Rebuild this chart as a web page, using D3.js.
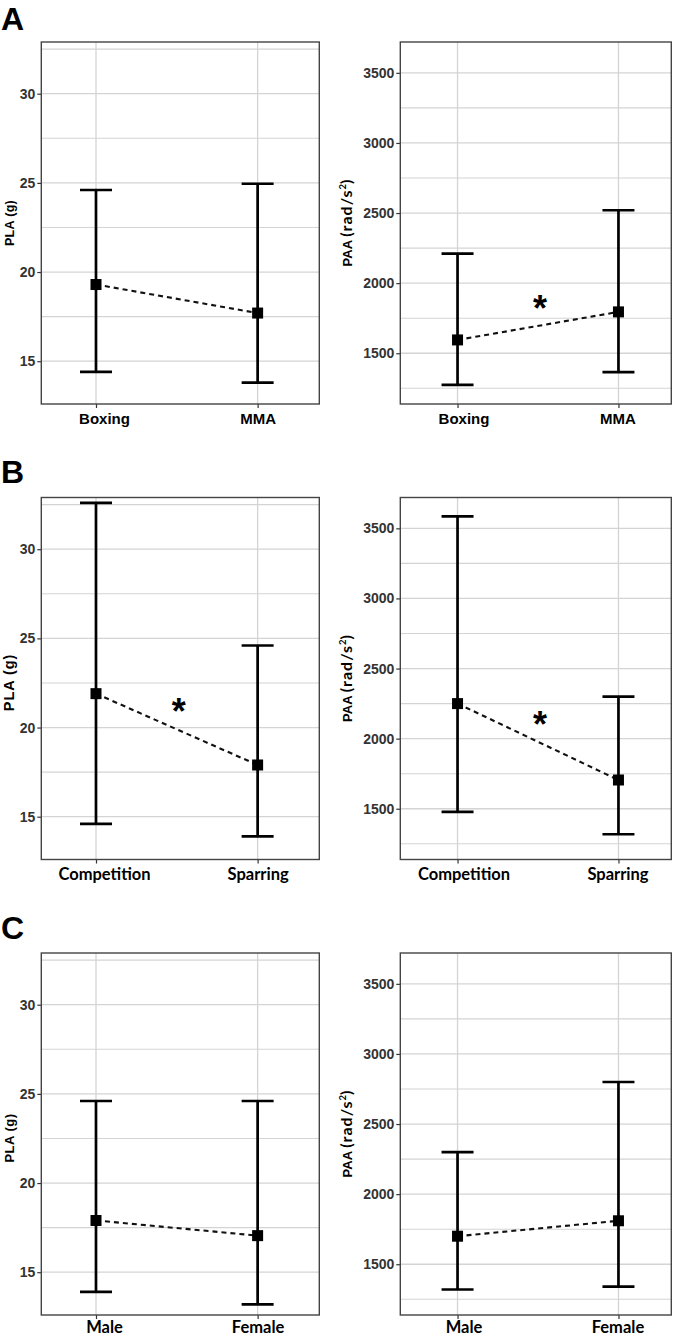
<!DOCTYPE html>
<html><head><meta charset="utf-8">
<script src="https://cdn.jsdelivr.net/npm/d3@7"></script>
<style>body{margin:0;background:#fff} svg{display:block}</style>
</head><body>
<script>
// ---------- data ----------
const panelLetters = ["A", "B", "C"];
const groupLabels = [["Boxing", "MMA"], ["Competition", "Sparring"], ["Male", "Female"]];
const plaMean  = [[19.3, 17.7], [21.9, 17.9], [17.9, 17.05]];
const plaLower = [[14.4, 13.8], [14.6, 13.9], [13.9, 13.2]];
const plaUpper = [[24.6, 24.95], [32.6, 24.6], [24.6, 24.6]];
const paaMean  = [[1595, 1795], [2250, 1705], [1700, 1810]];
const paaLower = [[1275, 1365], [1478, 1318], [1320, 1340]];
const paaUpper = [[2210, 2520], [3585, 2300], [2300, 2800]];
const significant = [[false, true], [true, true], [false, false]]; // [PLA, PAA] per row
const plaTicks = [15, 20, 25, 30];
const plaMinor = [17.5, 22.5, 27.5, 32.5];
const paaTicks = [1500, 2000, 2500, 3000, 3500];
const paaMinor = [1250, 1750, 2250, 2750, 3250];
const plaDomain = [12.6, 32.9];
const paaDomain = [1138, 3720];

// ---------- layout ----------
const W = 674, H = 1336;
const svg = d3.select("body").append("svg").attr("width", W).attr("height", H)
  .style("font-family", "'Liberation Sans', Arial, sans-serif");

const rowTops = [42, 497.5, 953];
const rowH = 362;
const letterBase = [30, 483, 939];
const xLabelY = [20, 20, 17.5];
const plaTitleSize = [12.5, 14.5, 13];
const plaTitleSpacing = [0.3, 0.9, 0.5];
const cols = [
  {x0: 41.3, x1: 319.3, padding: 0.36, align: 0.47, dx: [8, 0], titleX: 9},
  {x0: 400.3, x1: 671.3, padding: 0.342, align: 0.52, dx: [6, -1], titleX: 347}
];
const gridColor = "#d4d4d4";
const SANS = "'Liberation Sans', Arial, sans-serif";
const HUMAN = "Lato, 'Open Sans', sans-serif";

panelLetters.forEach((L, r) => {
  svg.append("text").attr("x", 1).attr("y", letterBase[r])
    .attr("font-size", 32).attr("font-weight", "bold").attr("fill", "#000").text(L);

  [0, 1].forEach(c => {
    const col = cols[c];
    const top = rowTops[r], bottom = top + rowH;
    const isPLA = c === 0;
    const mean = isPLA ? plaMean[r] : paaMean[r];
    const lo = isPLA ? plaLower[r] : paaLower[r];
    const hi = isPLA ? plaUpper[r] : paaUpper[r];
    const ticks = isPLA ? plaTicks : paaTicks;
    const minor = isPLA ? plaMinor : paaMinor;
    const y = d3.scaleLinear().domain(isPLA ? plaDomain : paaDomain).range([bottom, top]);
    const x = d3.scalePoint().domain(groupLabels[r]).range([col.x0, col.x1])
      .padding(col.padding).align(col.align);
    const data = groupLabels[r].map((g, i) => ({g, i, m: mean[i], lo: lo[i], hi: hi[i]}));

    const g = svg.append("g");
    // grid
    g.selectAll(".minor").data(minor.filter(v => y(v) > top + 1 && y(v) < bottom - 1)).join("line")
      .attr("x1", col.x0).attr("x2", col.x1).attr("y1", d => y(d)).attr("y2", d => y(d))
      .attr("stroke", gridColor).attr("stroke-width", 1.1);
    g.selectAll(".major").data(ticks).join("line")
      .attr("x1", col.x0).attr("x2", col.x1).attr("y1", d => y(d)).attr("y2", d => y(d))
      .attr("stroke", gridColor).attr("stroke-width", 1.3);
    g.selectAll(".vgrid").data(groupLabels[r]).join("line")
      .attr("x1", d => x(d)).attr("x2", d => x(d)).attr("y1", top).attr("y2", bottom)
      .attr("stroke", gridColor).attr("stroke-width", 1.3);

    // axes
    const ya = g.append("g").attr("transform", `translate(${col.x0},0)`)
      .call(d3.axisLeft(y).tickValues(ticks).tickSize(4).tickPadding(2).tickFormat(d3.format("d")));
    ya.select(".domain").remove();
    ya.selectAll(".tick line").attr("stroke", "#333").attr("stroke-width", 1.2);
    ya.selectAll(".tick text").attr("font-size", 14).attr("font-weight", "bold").attr("fill", "#333")
      .attr("font-family", SANS);

    const xa = g.append("g").attr("transform", `translate(0,${bottom})`)
      .call(d3.axisBottom(x).tickSize(4).tickPadding(5));
    xa.select(".domain").remove();
    xa.selectAll(".tick line").attr("stroke", "#333").attr("stroke-width", 1.2);
    const xText = xa.selectAll(".tick text").attr("fill", "#000").attr("font-weight", "bold")
      .attr("dy", null).attr("y", xLabelY[r]).attr("dx", (d, i) => col.dx[i]);
    if (r === 0) xText.attr("font-size", 15).attr("font-family", SANS);
    else xText.attr("font-size", 16.5).attr("font-family", HUMAN);

    // frame
    g.append("rect").attr("x", col.x0).attr("y", top).attr("width", col.x1 - col.x0).attr("height", rowH)
      .attr("fill", "none").attr("stroke", "#444").attr("stroke-width", 1.4);

    // axis title
    const cy = (top + bottom) / 2 + (isPLA && r > 0 ? 4 : 0);
    const t = g.append("text").attr("transform", `translate(${col.titleX + 5},${cy}) rotate(-90)`)
      .attr("text-anchor", "middle").attr("fill", "#000").attr("font-weight", "bold");
    if (isPLA) {
      t.attr("font-size", plaTitleSize[r]).attr("font-family", SANS)
        .attr("letter-spacing", plaTitleSpacing[r]).text("PLA (g)");
    } else {
      t.attr("font-size", 13);
      t.append("tspan").attr("font-family", SANS).text("PAA ");
      t.append("tspan").attr("font-family", HUMAN).attr("font-size", 16)
        .attr("letter-spacing", 1).text("(rad/s");
      t.append("tspan").attr("font-family", HUMAN).attr("font-size", 9.5).attr("dy", -6.5).text("2");
      t.append("tspan").attr("font-family", HUMAN).attr("font-size", 16).attr("dy", 6.5).text(")");
    }

    // connecting dashed line
    g.append("path").datum(data)
      .attr("d", d3.line().x(d => x(d.g)).y(d => y(d.m)))
      .attr("fill", "none").attr("stroke", "#111").attr("stroke-width", 2.1)
      .attr("stroke-dasharray", "5,4");

    // error bars
    const eb = g.selectAll(".eb").data(data).join("g");
    eb.append("line").attr("x1", d => x(d.g)).attr("x2", d => x(d.g))
      .attr("y1", d => y(d.lo)).attr("y2", d => y(d.hi))
      .attr("stroke", "#000").attr("stroke-width", 2.7);
    eb.append("line").attr("x1", d => x(d.g) - 16).attr("x2", d => x(d.g) + 16)
      .attr("y1", d => y(d.hi)).attr("y2", d => y(d.hi))
      .attr("stroke", "#000").attr("stroke-width", 2.7);
    eb.append("line").attr("x1", d => x(d.g) - 16).attr("x2", d => x(d.g) + 16)
      .attr("y1", d => y(d.lo)).attr("y2", d => y(d.lo))
      .attr("stroke", "#000").attr("stroke-width", 2.7);
    eb.append("rect").attr("x", d => x(d.g) - 5.5).attr("y", d => y(d.m) - 5.5)
      .attr("width", 11).attr("height", 11).attr("fill", "#000");

    // significance marker
    if (significant[r][c]) {
      const mx = (x(data[0].g) + x(data[1].g)) / 2 + 2;
      const my = (y(data[0].m) + y(data[1].m)) / 2 - 25;
      g.append("text").attr("x", mx).attr("y", my + 20).attr("text-anchor", "middle")
        .attr("font-size", 36).attr("font-weight", "bold").attr("fill", "#000").text("*");
    }
  });
});
</script>
</body></html>
